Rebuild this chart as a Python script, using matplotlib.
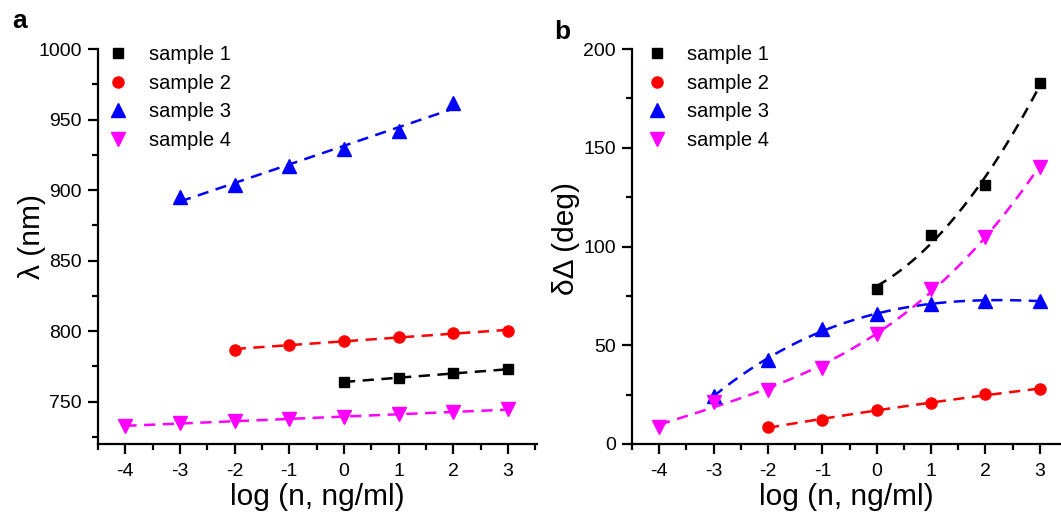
import numpy as np
import matplotlib
matplotlib.use("Agg")
import matplotlib.pyplot as plt
from matplotlib.ticker import MultipleLocator

plt.rcParams['font.family'] = ['Liberation Sans', 'DejaVu Sans']
plt.rcParams['axes.unicode_minus'] = False

# ---- data ----
labels = ["sample 1", "sample 2", "sample 3", "sample 4"]
colors = ["black", "red", "blue", "magenta"]
markers = ["s", "o", "^", "v"]
msizes = [7.5, 8, 9.5, 9.5]

# panel a: wavelength (nm)
a_x1 = [0, 1, 2, 3]
a_y1 = [764, 767, 770, 773]
a_x2 = [-2, -1, 0, 1, 2, 3]
a_y2 = [787, 790, 793, 796, 799, 800]
a_x3 = [-3, -2, -1, 0, 1, 2]
a_y3 = [895, 904, 917, 929, 942, 962]
a_x4 = [-4, -3, -2, -1, 0, 1, 2, 3]
a_y4 = [733, 735, 736, 737.5, 739, 741, 742.5, 745]

# panel b: delta shift (deg)
b_x1 = [0, 1, 2, 3]
b_y1 = [78.5, 106, 131, 183]
b_x2 = [-2, -1, 0, 1, 2, 3]
b_y2 = [8.5, 12.2, 17.2, 20.8, 25.2, 27.8]
b_x3 = [-3, -2, -1, 0, 1, 2, 3]
b_y3 = [24.5, 42.5, 58, 66, 71, 72.5, 72.5]
b_x4 = [-4, -3, -2, -1, 0, 1, 2, 3]
b_y4 = [8.5, 21.5, 27.5, 38.5, 55.5, 78.5, 105, 140.5]

a_series = [(a_x1, a_y1), (a_x2, a_y2), (a_x3, a_y3), (a_x4, a_y4)]
b_series = [(b_x1, b_y1), (b_x2, b_y2), (b_x3, b_y3), (b_x4, b_y4)]
a_deg = [1, 1, 1, 1]
b_deg = [2, 2, 3, 3]

fig = plt.figure(figsize=(10.61, 5.17), dpi=100)
axa = fig.add_axes([0.0924, 0.1412, 0.506 - 0.0924, 0.905 - 0.1412])
axb = fig.add_axes([0.5957, 0.1412, 1.0 - 0.5957, 0.905 - 0.1412])


def draw(ax, series, degs, legx):
    for (x, y), c, m, ms, lab, d in zip(series, colors, markers, msizes, labels, degs):
        x = np.asarray(x, float)
        y = np.asarray(y, float)
        ax.plot(x, y, linestyle='none', marker=m, color=c, markersize=ms,
                label=lab, zorder=3)
        coef = np.polyfit(x, y, d)
        xf = np.linspace(x.min(), x.max(), 100)
        ax.plot(xf, np.polyval(coef, xf), linestyle=(0, (4.5, 3.0)), color=c,
                linewidth=1.8, zorder=2)
    for s in ['top', 'right']:
        ax.spines[s].set_visible(False)
    for s in ['left', 'bottom']:
        ax.spines[s].set_linewidth(1.6)
    ax.tick_params(which='major', direction='out', length=7.5, width=1.6,
                   labelsize=14, pad=4)
    ax.tick_params(which='minor', direction='out', length=4.5, width=1.6)
    ax.tick_params(axis='x', which='major', pad=6.5)
    ax.xaxis.set_major_locator(MultipleLocator(1))
    ax.xaxis.set_minor_locator(MultipleLocator(0.5))
    ax.yaxis.set_minor_locator(MultipleLocator(25))
    ax.set_xlabel("log (n, ng/ml)", fontsize=21.5, labelpad=2)
    ax.legend(loc='upper left', frameon=False, fontsize=14.5,
              markerscale=1.0, handlelength=1.0, handletextpad=1.0,
              labelspacing=0.47, borderaxespad=0.0,
              bbox_to_anchor=(legx, 1.03))


draw(axa, a_series, a_deg, 0.005)
axa.set_xlim(-4.5, 3.53)
axa.set_ylim(720, 1000)
axa.yaxis.set_major_locator(MultipleLocator(50))
axa.set_ylabel("λ (nm)", fontsize=21.5)
axa.yaxis.set_label_coords(-0.118, 0.525)

draw(axb, b_series, b_deg, 0.016)
axb.set_xlim(-4.5, 3.39)
axb.set_ylim(0, 200)
axb.yaxis.set_major_locator(MultipleLocator(50))
axb.set_ylabel("δΔ (deg)", fontsize=21.5)
axb.yaxis.set_label_coords(-0.122, 0.52)

fig.text(0.012, 0.945, "a", fontsize=19, fontweight='bold')
fig.text(0.522, 0.925, "b", fontsize=19, fontweight='bold')

fig.savefig("out.png", dpi=100)
